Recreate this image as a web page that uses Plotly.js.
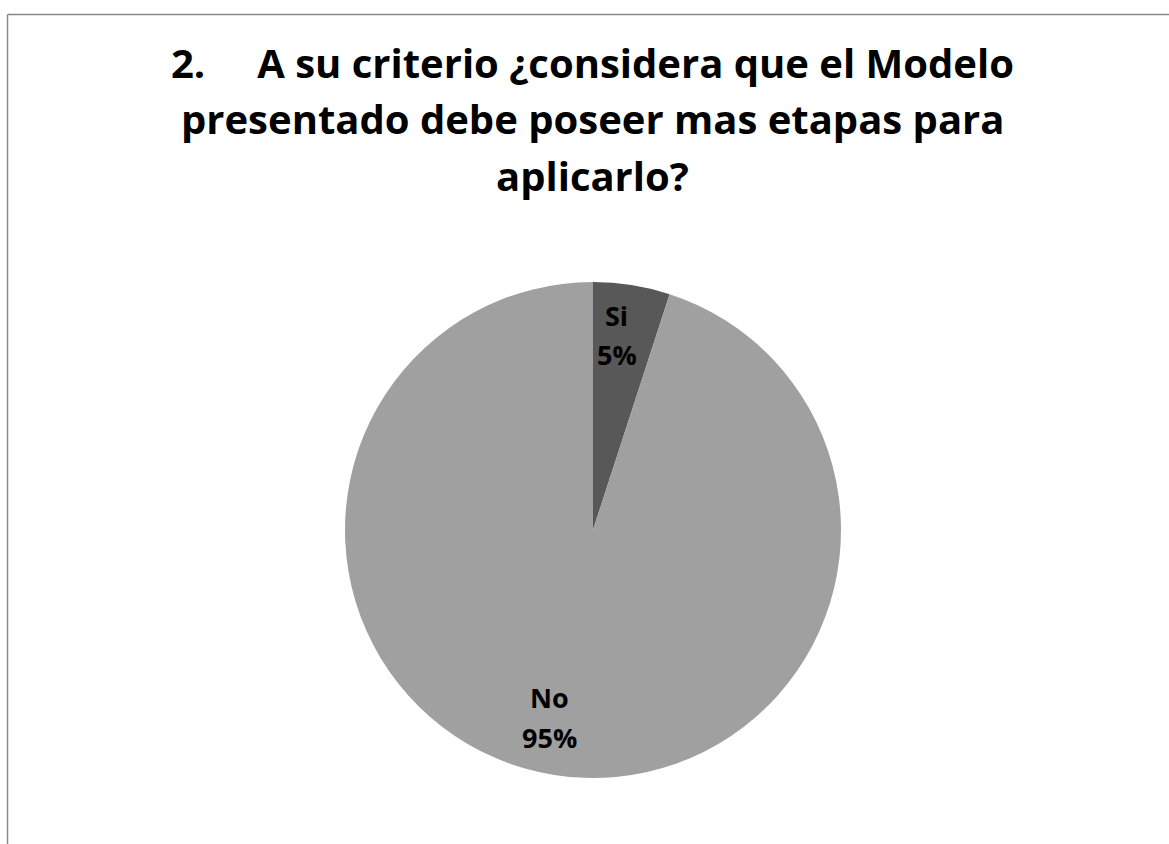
<!DOCTYPE html>
<html>
<head>
<meta charset="utf-8">
<script src="https://cdn.plot.ly/plotly-3.0.1.min.js"></script>
<style>html,body{margin:0;padding:0;background:#fff;}#chart{width:1169px;height:844px;}</style>
</head>
<body>
<div id="chart"></div>
<script>
const titleLines = [
  "2.\u00a0\u00a0\u00a0\u00a0\u00a0A su criterio ¿considera que el Modelo",
  "presentado debe poseer mas etapas para",
  "aplicarlo?"
];
const categories = ["Si", "No"];
const values = [5, 95];
const colors = ["#585858", "#a0a0a0"];

const W = 1169, H = 844;
const cx = 593, cy = 530, R = 248;
const dom = {
  x: [(cx - R) / W, (cx + R) / W],
  y: [(H - cy - R) / H, (H - cy + R) / H]
};

const total = values.reduce((a, b) => a + b, 0);
const font = "Open Sans, Noto Sans, sans-serif";

const annotations = [];
const titleY = [62, 119, 176];
titleLines.forEach((t, i) => {
  annotations.push({
    text: "<b>" + t + "</b>", x: 592.5 / W, y: 1 - titleY[i] / H,
    xref: "paper", yref: "paper", showarrow: false,
    xanchor: "center", yanchor: "middle",
    font: {family: font, size: 40, color: "#000"}
  });
});

// label placement along each slice, derived from the data
const labelR = 0.785;
const labelShift = [-2, 4];
const lineGap = 39.5;
let cum = 0;
categories.forEach((c, i) => {
  const frac = values[i] / total;
  const mid = (cum + frac / 2) * 360 + labelShift[i];
  cum += frac;
  const a = mid * Math.PI / 180;
  const px = cx + labelR * R * Math.sin(a);
  const py = cy - labelR * R * Math.cos(a);
  const lines = [c, Math.round(frac * 100) + "%"];
  lines.forEach((ln, j) => {
    const ly = py + (j - 0.5) * lineGap - 2;
    annotations.push({
      text: "<b>" + ln + "</b>",
      x: px / W, y: 1 - ly / H, xref: "paper", yref: "paper",
      showarrow: false, xanchor: "center", yanchor: "middle",
      font: {family: font, size: 27, color: "#000"}
    });
  });
});

const data = [{
  type: "pie",
  labels: categories,
  values: values,
  marker: {colors: colors, line: {color: "#ffffff", width: 0}},
  sort: false,
  direction: "clockwise",
  rotation: 0,
  textinfo: "none",
  hoverinfo: "label+percent",
  domain: dom,
  showlegend: false
}];

const layout = {
  width: W, height: H,
  margin: {l: 0, r: 0, t: 0, b: 0},
  paper_bgcolor: "#ffffff",
  showlegend: false,
  annotations: annotations,
  shapes: [
    {type: "line", xref: "paper", yref: "paper", x0: 7.5 / W, x1: 1, y0: 1 - 14.5 / H, y1: 1 - 14.5 / H, line: {color: "#898989", width: 1.5}},
    {type: "line", xref: "paper", yref: "paper", x0: 7.5 / W, x1: 7.5 / W, y0: 1 - 14.5 / H, y1: 0, line: {color: "#898989", width: 1.5}}
  ]
};

Plotly.newPlot("chart", data, layout, {displayModeBar: false, staticPlot: true});
</script>
</body>
</html>
